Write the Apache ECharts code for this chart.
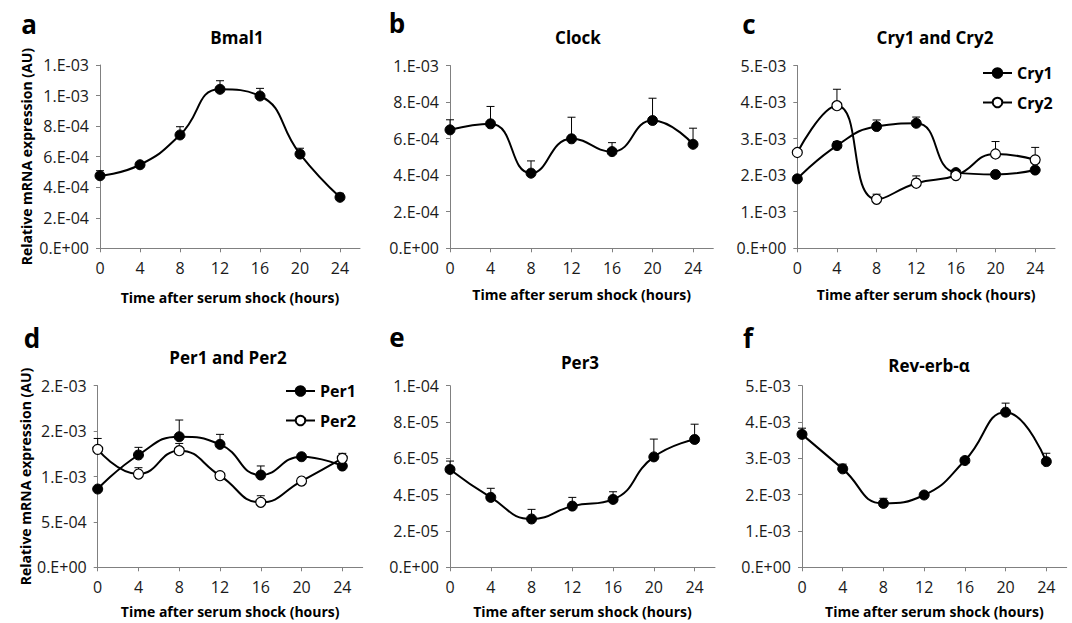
<!DOCTYPE html>
<html>
<head>
<meta charset="utf-8">
<script src="https://cdn.jsdelivr.net/npm/echarts@6/dist/echarts.min.js"></script>
<style>
html,body{margin:0;padding:0;background:#fff;}
#chart{width:1072px;height:623px;}
</style>
</head>
<body>
<div id="chart"></div>
<script>
// ---- data ----
const hours = [0, 4, 8, 12, 16, 20, 24];

const bmal1    = [4.75e-4, 5.47e-4, 7.42e-4, 1.041e-3, 9.97e-4, 6.17e-4, 3.34e-4];
const bmal1Err = [3.3e-5, 1.2e-5, 5.4e-5, 5.6e-5, 5.0e-5, 3.8e-5, 2.6e-5];

const clock    = [6.48e-4, 6.81e-4, 4.11e-4, 5.99e-4, 5.29e-4, 6.99e-4, 5.69e-4];
const clockErr = [5.5e-5, 9.5e-5, 6.7e-5, 1.18e-4, 4.9e-5, 1.22e-4, 8.8e-5];

const cry1    = [1.90e-3, 2.81e-3, 3.33e-3, 3.42e-3, 2.07e-3, 2.02e-3, 2.14e-3];
const cry1Err = [4e-5, 1.1e-4, 1.8e-4, 1.7e-4, 5e-5, 4e-5, 6e-5];
const cry2    = [2.62e-3, 3.90e-3, 1.34e-3, 1.78e-3, 1.99e-3, 2.58e-3, 2.42e-3];
const cry2Err = [8e-5, 4.5e-4, 1.4e-4, 2.0e-4, 5e-5, 3.4e-4, 3.4e-4];

const per1    = [8.62e-4, 1.237e-3, 1.438e-3, 1.354e-3, 1.016e-3, 1.218e-3, 1.115e-3];
const per1Err = [2e-5, 8.4e-5, 1.84e-4, 1.1e-4, 1.0e-4, 2e-5, 3e-5];
const per2    = [1.299e-3, 1.027e-3, 1.284e-3, 1.009e-3, 7.16e-4, 9.5e-4, 1.20e-3];
const per2Err = [1.2e-4, 7e-5, 8e-5, 2e-5, 7.2e-5, 2e-5, 5.5e-5];

const per3    = [5.39e-5, 3.85e-5, 2.66e-5, 3.37e-5, 3.74e-5, 6.08e-5, 7.04e-5];
const per3Err = [4.6e-6, 5.0e-6, 5.3e-6, 4.8e-6, 4.2e-6, 9.8e-6, 8.4e-6];

const revErb    = [3.66e-3, 2.71e-3, 1.76e-3, 1.99e-3, 2.94e-3, 4.27e-3, 2.91e-3];
const revErbErr = [1.7e-4, 1.3e-4, 1.4e-4, 6e-5, 6e-5, 2.5e-4, 2.3e-4];

const panelTitles  = ['Bmal1', 'Clock', 'Cry1 and Cry2', 'Per1 and Per2', 'Per3', 'Rev-erb-α'];
const panelLetters = ['a', 'b', 'c', 'd', 'e', 'f'];
const yMaxes       = [1.2e-3, 1e-3, 5e-3, 2e-3, 1e-4, 5e-3];
const yIntervals   = [2e-4, 2e-4, 1e-3, 5e-4, 2e-5, 1e-3];
const xName = 'Time after serum shock (hours)';
const yName = 'Relative mRNA expression (AU)';

// ---- layout ----
const FONT = '"Open Sans", Lato, sans-serif';
const layout = [
  {grid:{left:100, top:65, width:260, height:183.3}, title:[237,37], letter:[29,24], yName:true, yGap:67, xGap:42},
  {grid:{left:450, top:65.5, width:263.3, height:182.8}, title:[578,37], letter:[397,23], xGap:39},
  {grid:{left:797.3, top:65.5, width:257.7, height:182.8}, title:[935,37], letter:[749,24], xGap:39},
  {grid:{left:97.7, top:385.7, width:265, height:181.6}, title:[228,357], letter:[32,338], yName:true, yGap:65, xGap:37},
  {grid:{left:450, top:385.7, width:265, height:181.6}, title:[580,362], letter:[397,337], xGap:37},
  {grid:{left:802, top:385.7, width:264.7, height:181.6}, title:[929,365], letter:[748,338], xGap:37}
];

const panelSeries = [
  [{name:'Bmal1', v:bmal1, e:bmal1Err, open:false}],
  [{name:'Clock', v:clock, e:clockErr, open:false}],
  [{name:'Cry1', v:cry1, e:cry1Err, open:false}, {name:'Cry2', v:cry2, e:cry2Err, open:true}],
  [{name:'Per1', v:per1, e:per1Err, open:false}, {name:'Per2', v:per2, e:per2Err, open:true}],
  [{name:'Per3', v:per3, e:per3Err, open:false}],
  [{name:'Rev-erb-α', v:revErb, e:revErbErr, open:false}]
];

function sci(v) {
  if (Math.abs(v) < 1e-15) return '0.E+00';
  let e = Math.floor(Math.log10(Math.abs(v)) + 1e-9);
  let m = Math.round(v / Math.pow(10, e) + 1e-9);
  if (m >= 10) { m = 1; e += 1; }
  return m + '.E' + (e < 0 ? '-' : '+') + String(Math.abs(e)).padStart(2, '0');
}

function errRender(params, api) {
  const x = api.value(0), y = api.value(1), t = api.value(2);
  const p0 = api.coord([x, y]);
  const p1 = api.coord([x, t]);
  const st = {stroke:'#000', lineWidth:1};
  return {type:'group', children:[
    {type:'line', shape:{x1:p0[0], y1:p0[1], x2:p1[0], y2:p1[1]}, style:st},
    {type:'line', shape:{x1:p1[0]-4, y1:p1[1], x2:p1[0]+4, y2:p1[1]}, style:st}
  ]};
}

const grids = [], xAxes = [], yAxes = [], series = [], graphics = [];
layout.forEach((L, i) => {
  grids.push(Object.assign({containLabel:false}, L.grid));
  xAxes.push({
    type:'value', gridIndex:i, min:0, max:26, interval:4,
    name:xName, nameLocation:'middle', nameGap:L.xGap,
    nameTextStyle:{fontFamily:FONT, fontWeight:'bold', fontSize:14, color:'#000'},
    axisLine:{lineStyle:{color:'#808080', width:1}},
    axisTick:{show:true, length:4, lineStyle:{color:'#808080'}, customValues:hours},
    axisLabel:{fontFamily:FONT, fontSize:16, color:'#1a1a1a', margin:12, customValues:hours},
    splitLine:{show:false}
  });
  yAxes.push({
    type:'value', gridIndex:i, min:0, max:yMaxes[i], interval:yIntervals[i],
    name:L.yName ? yName : '', nameLocation:'middle', nameGap:L.yGap || 50, nameRotate:90,
    nameTextStyle:{fontFamily:FONT, fontWeight:'bold', fontSize:14, color:'#000'},
    axisLine:{show:true, lineStyle:{color:'#808080', width:1}},
    axisTick:{show:true, length:4, lineStyle:{color:'#808080'}},
    axisLabel:{fontFamily:FONT, fontSize:16, color:'#1a1a1a', margin:11, formatter:sci},
    splitLine:{show:false}
  });
  panelSeries[i].forEach((s) => {
    series.push({
      name:s.name + ' SEM', type:'custom', xAxisIndex:i, yAxisIndex:i, z:1,
      renderItem:errRender, encode:{x:0, y:[1,2]},
      data:hours.map((h, j) => [h, s.v[j], s.v[j] + s.e[j]])
    });
  });
  panelSeries[i].forEach((s, k) => {
    series.push({
      name:s.name, type:'line', xAxisIndex:i, yAxisIndex:i, z:2 + k,
      smooth:0.5, symbol:'circle', symbolSize:10,
      lineStyle:{color:'#000', width:2},
      itemStyle:s.open ? {color:'#fff', borderColor:'#000', borderWidth:1.2} : {color:'#000', borderColor:'#000', borderWidth:1},
      emphasis:{disabled:true},
      data:hours.map((h, j) => [h, s.v[j]])
    });
  });
  graphics.push({type:'text', x:L.title[0], y:L.title[1],
    style:{text:panelTitles[i], font:'bold 17px ' + FONT, fill:'#000', align:'center', verticalAlign:'middle'}});
  graphics.push({type:'text', x:L.letter[0], y:L.letter[1],
    style:{text:panelLetters[i], font:'bold 26px ' + FONT, fill:'#000', align:'center', verticalAlign:'middle'}});
});

const legendBase = {
  orient:'vertical', itemWidth:29, itemHeight:12, itemGap:13.5, padding:0,
  textStyle:{fontFamily:FONT, fontWeight:'bold', fontSize:16, color:'#000'},
  selectedMode:false
};

const chart = echarts.init(document.getElementById('chart'), null, {renderer:'svg'});
chart.setOption({
  animation:false,
  backgroundColor:'#fff',
  grid:grids, xAxis:xAxes, yAxis:yAxes, series:series,
  legend:[
    Object.assign({data:['Cry1', 'Cry2'], left:982, top:65}, legendBase),
    Object.assign({data:['Per1', 'Per2'], left:285, top:383}, legendBase)
  ],
  graphic:graphics
});
</script>
</body>
</html>
